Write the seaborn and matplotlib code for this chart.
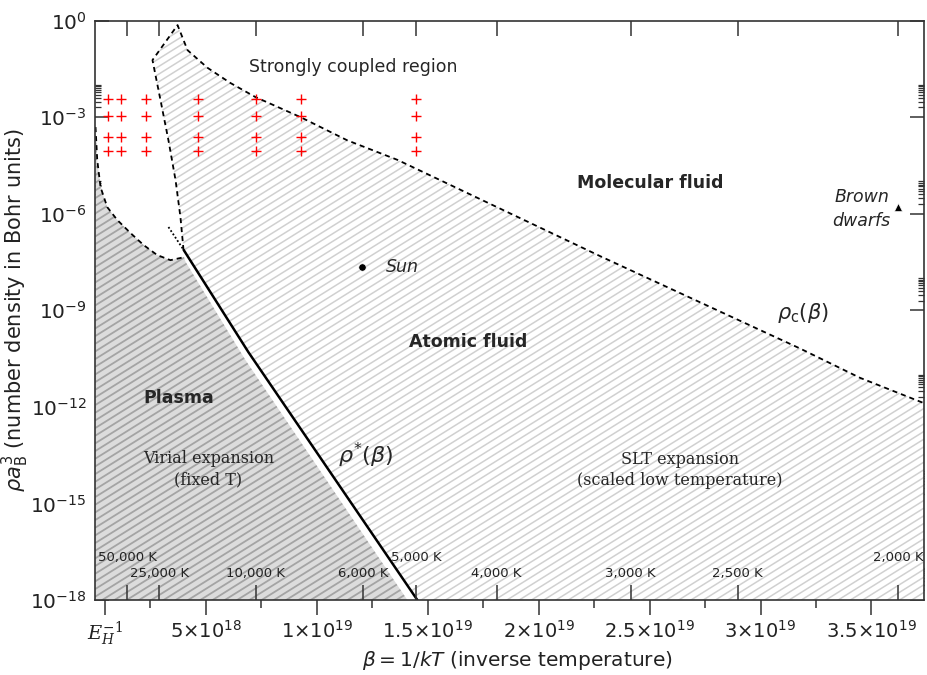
import numpy as np
import pandas as pd
import matplotlib
matplotlib.use('Agg')
import matplotlib.pyplot as plt
import seaborn as sns
from matplotlib.collections import LineCollection
from matplotlib.transforms import blended_transform_factory

# ---- data (beta in 1/J, rho in Bohr units) ----
K_B = 1.380649e-23
E_H_INV = 4.589e17
BETA_MAX = 3.737e19

# strongly coupled boundary: left edge bottom->top, then rho_c(beta) to the right edge
coupled_beta = np.array([3.99, 3.85, 3.63, 3.31, 2.95, 2.59, 3.72, 4.17, 5.07, 6.10, 7.23,
                         9.26, 11.37, 13.63, 15.56, 22.77, 31.78, 34.48, 37.37]) * 1e18
coupled_rho = np.array([7.4e-8, 7.9e-7, 1.1e-5, 1.9e-4, 3.4e-3, 5.9e-2, 0.72, 0.12, 3.4e-2,
                        1.15e-2, 4.2e-3, 1.0e-3, 1.9e-4, 4.7e-5, 1.1e-5, 4.8e-8, 6.5e-11,
                        8.0e-12, 1.3e-12])

# plasma boundary (dashed)
plasma_beta = np.array([0.023, 0.099, 0.248, 0.55, 1.00, 1.60, 2.19, 2.80, 3.40, 3.85, 4.01]) * 1e18
plasma_rho = np.array([4.9e-4, 4.7e-5, 6.7e-6, 1.6e-6, 6.4e-7, 2.5e-7, 1.06e-7, 5.2e-8,
                       3.6e-8, 4.2e-8, 4.5e-8])

# right edge of the grey (virial) zone
virial_edge_beta = np.array([4.08, 6.78, 14.08]) * 1e18
virial_edge_rho = np.array([3.2e-8, 2.85e-11, 1e-18])

# rho*(beta) line and its dotted continuation
rho_star_beta = np.array([4.00, 6.91, 14.53]) * 1e18
rho_star = np.array([7.4e-8, 5.05e-11, 1e-18])
dotted_beta = np.array([3.31, 4.00]) * 1e18
dotted_rho = np.array([3.85e-7, 7.4e-8])

# simulation points (red crosses)
sim_T = [125000, 62500, 31250, 15625, 10000, 7812.5, 5000]
sim_rho = [3.73e-3, 1.11e-3, 2.39e-4, 8.70e-5]

sun_beta, sun_rho = 1.205e19, 2.2e-8
bd_beta, bd_rho = 3.619e19, 1.61e-6

temps = [50000, 25000, 10000, 6000, 5000, 4000, 3000, 2500, 2000]
temp_labels = ['50,000 K', '25,000 K', '10,000 K', '6,000 K', '5,000 K',
               '4,000 K', '3,000 K', '2,500 K', '2,000 K']
temp_upper = [True, False, False, False, True, False, False, False, True]

xticks = [E_H_INV, 5e18, 1e19, 1.5e19, 2e19, 2.5e19, 3e19, 3.5e19]
xtick_labels = [r'$E_H^{-1}$', r'$5{\times}10^{18}$', r'$1{\times}10^{19}$', r'$1.5{\times}10^{19}$',
                r'$2{\times}10^{19}$', r'$2.5{\times}10^{19}$', r'$3{\times}10^{19}$',
                r'$3.5{\times}10^{19}$']
yexp = [0, -3, -6, -9, -12, -15, -18]

sns.set_style('ticks')
plt.rcParams['font.family'] = ['DejaVu Sans']
plt.rcParams['mathtext.fontset'] = 'dejavusans'

fig = plt.figure(figsize=(9.28, 6.75), dpi=100)
ax = fig.add_axes([0.1024, 0.1111, 0.8933, 0.8585])
ax.set_yscale('log')
ax.set_xlim(0, BETA_MAX)
ax.set_ylim(1e-18, 1)


def hatch(ax, patch, color, lw, spacing=6.5, angle=32):
    # diagonal texture clipped to a region
    pos = ax.get_position()
    W = pos.width * fig.get_figwidth() * fig.dpi
    H = pos.height * fig.get_figheight() * fig.dpi
    t = np.tan(np.radians(angle))
    step = spacing / np.cos(np.radians(angle))
    cs = np.arange(-t * W, H + step, step)
    segs = [[(0, c / H), (1, (c + t * W) / H)] for c in cs]
    lc = LineCollection(segs, transform=ax.transAxes, colors=color, linewidths=lw, zorder=1.2)
    ax.add_collection(lc, autolim=False)
    lc.set_clip_path(patch)


# grey plasma / virial zone
gx = np.concatenate([plasma_beta, virial_edge_beta, [0]])
gy = np.concatenate([plasma_rho, virial_edge_rho, [1e-18]])
grey = ax.fill(gx, gy, facecolor='#dcdcdc', edgecolor='none', zorder=1)[0]
hatch(ax, grey, '#a4a4a4', 1.3)

# atomic fluid / strongly coupled zone
lx = np.concatenate([coupled_beta, [BETA_MAX, rho_star_beta[-1]], rho_star_beta[::-1]])
ly = np.concatenate([coupled_rho, [1e-18, 1e-18], rho_star[::-1]])
light = ax.fill(lx, ly, facecolor='white', edgecolor='none', zorder=1)[0]
hatch(ax, light, '#d0d0d0', 1.1)

dash = (0, (2.8, 2.2))
sns.lineplot(x=coupled_beta, y=coupled_rho, sort=False, estimator=None, ax=ax,
             color='black', lw=1.3, linestyle=dash, zorder=3)
sns.lineplot(x=plasma_beta, y=plasma_rho, sort=False, estimator=None, ax=ax,
             color='black', lw=1.3, linestyle=dash, zorder=3)
sns.lineplot(x=rho_star_beta, y=rho_star, sort=False, estimator=None, ax=ax,
             color='black', lw=1.8, zorder=3)
sns.lineplot(x=dotted_beta, y=dotted_rho, sort=False, estimator=None, ax=ax,
             color='black', lw=1.3, linestyle=(0, (1, 1.2)), zorder=3)

sim = pd.DataFrame([(1 / (K_B * T), r) for T in sim_T for r in sim_rho], columns=['beta', 'rho'])
sns.scatterplot(data=sim, x='beta', y='rho', marker='+', color='red', s=45, linewidth=1.0,
                ax=ax, zorder=4)
sns.scatterplot(x=[sun_beta], y=[sun_rho], marker='o', color='black', s=28, ax=ax, zorder=4)
sns.scatterplot(x=[bd_beta], y=[bd_rho], marker='^', color='black', s=34, ax=ax, zorder=4)

# labels in the regions
ax.text(1.164e19, 3.6e-2, 'Strongly coupled region', ha='center', va='center', fontsize=12.5, zorder=5)
ax.text(2.502e19, 9.0e-6, 'Molecular fluid', ha='center', va='center', fontsize=12.5,
        fontweight='bold', zorder=5)
ax.text(1.682e19, 1.03e-10, 'Atomic fluid', ha='center', va='center', fontsize=12.5,
        fontweight='bold', zorder=5)
ax.text(3.761e18, 1.88e-12, 'Plasma', ha='center', va='center', fontsize=12.5,
        fontweight='bold', zorder=5)
ax.text(5.11e18, 1.17e-14, 'Virial expansion\n(fixed T)', ha='center', va='center',
        fontsize=11.5, family='DejaVu Serif', linespacing=1.35, zorder=5)
ax.text(2.637e19, 1.09e-14, 'SLT expansion\n(scaled low temperature)', ha='center', va='center',
        fontsize=11.5, family='DejaVu Serif', linespacing=1.35, zorder=5)
ax.text(1.218e19, 3.19e-14, r'$\rho^{*}(\beta)$', ha='center', va='center', fontsize=16, zorder=5)
ax.text(3.191e19, 8.2e-10, r'$\rho_{\mathrm{c}}(\beta)$', ha='center', va='center', fontsize=15, zorder=5)
ax.text(1.309e19, sun_rho, 'Sun', ha='left', va='center', fontsize=12.5, style='italic', zorder=5)
ax.text(3.583e19, 1.4e-6, 'Brown\ndwarfs', ha='right', va='center', fontsize=12.5,
        style='italic', linespacing=1.4, zorder=5)

# temperature labels along the bottom inside the frame
tb = blended_transform_factory(ax.transData, ax.transAxes)
temp_beta = [1 / (K_B * T) for T in temps]
for b, lab, up in zip(temp_beta, temp_labels, temp_upper):
    ax.text(b, 0.074 if up else 0.0466, lab, transform=tb, ha='center', va='center',
            fontsize=9.5, color='#222222', zorder=5)

# axes decoration
edge = '#333333'
for s in ax.spines.values():
    s.set_color(edge)
    s.set_linewidth(1.2)
    s.set_visible(True)
    s.set_zorder(6)

ax.set_xticks(xticks)
ax.set_xticklabels(xtick_labels)
ax.set_xticks(np.arange(2.5e18, BETA_MAX, 5e18), minor=True)
ax.tick_params(axis='x', which='major', direction='out', length=11, width=1.1, colors=edge,
               labelsize=14, labelcolor='#222222', pad=3, top=False)
ax.tick_params(axis='x', which='minor', direction='out', length=5.5, width=1.1, colors=edge, top=False)
ax.get_xticklabels()[0].set_math_fontfamily('dejavuserif')

ax.set_yticks([10.0 ** e for e in yexp])
ax.set_yticklabels([r'$10^{%d}$' % e for e in yexp])
ax.set_yticks([k * 10.0 ** e for e in yexp[1:] for k in range(2, 11)], minor=True)
ax.yaxis.set_minor_formatter(matplotlib.ticker.NullFormatter())
ax.tick_params(axis='y', which='major', direction='in', length=10, width=1.1, colors=edge,
               labelsize=14.5, labelcolor='#222222', left=True, right=True, pad=6)
ax.tick_params(axis='y', which='minor', direction='in', length=4.5, width=0.9, colors=edge,
               left=True, right=True)

ax2 = ax.twiny()
ax2.set_xlim(ax.get_xlim())
ax2.set_xticks(temp_beta)
ax2.tick_params(axis='x', which='both', direction='in', length=11, width=1.1, colors=edge,
                top=True, bottom=True, labeltop=False, labelbottom=False)
ax2.xaxis.set_minor_locator(matplotlib.ticker.NullLocator())
for s in ax2.spines.values():
    s.set_visible(False)

ax.set_xlabel(r'$\beta = 1/kT$ (inverse temperature)', fontsize=14.5, color='#222222')
ax.xaxis.set_label_coords(0.51, -0.084)
ax.set_ylabel(r'$\rho a_{\mathrm{B}}^{3}$ (number density in Bohr units)', fontsize=15,
              color='#222222')
ax.yaxis.set_label_coords(-0.077, 0.5)

fig.savefig('out.png', dpi=100)
